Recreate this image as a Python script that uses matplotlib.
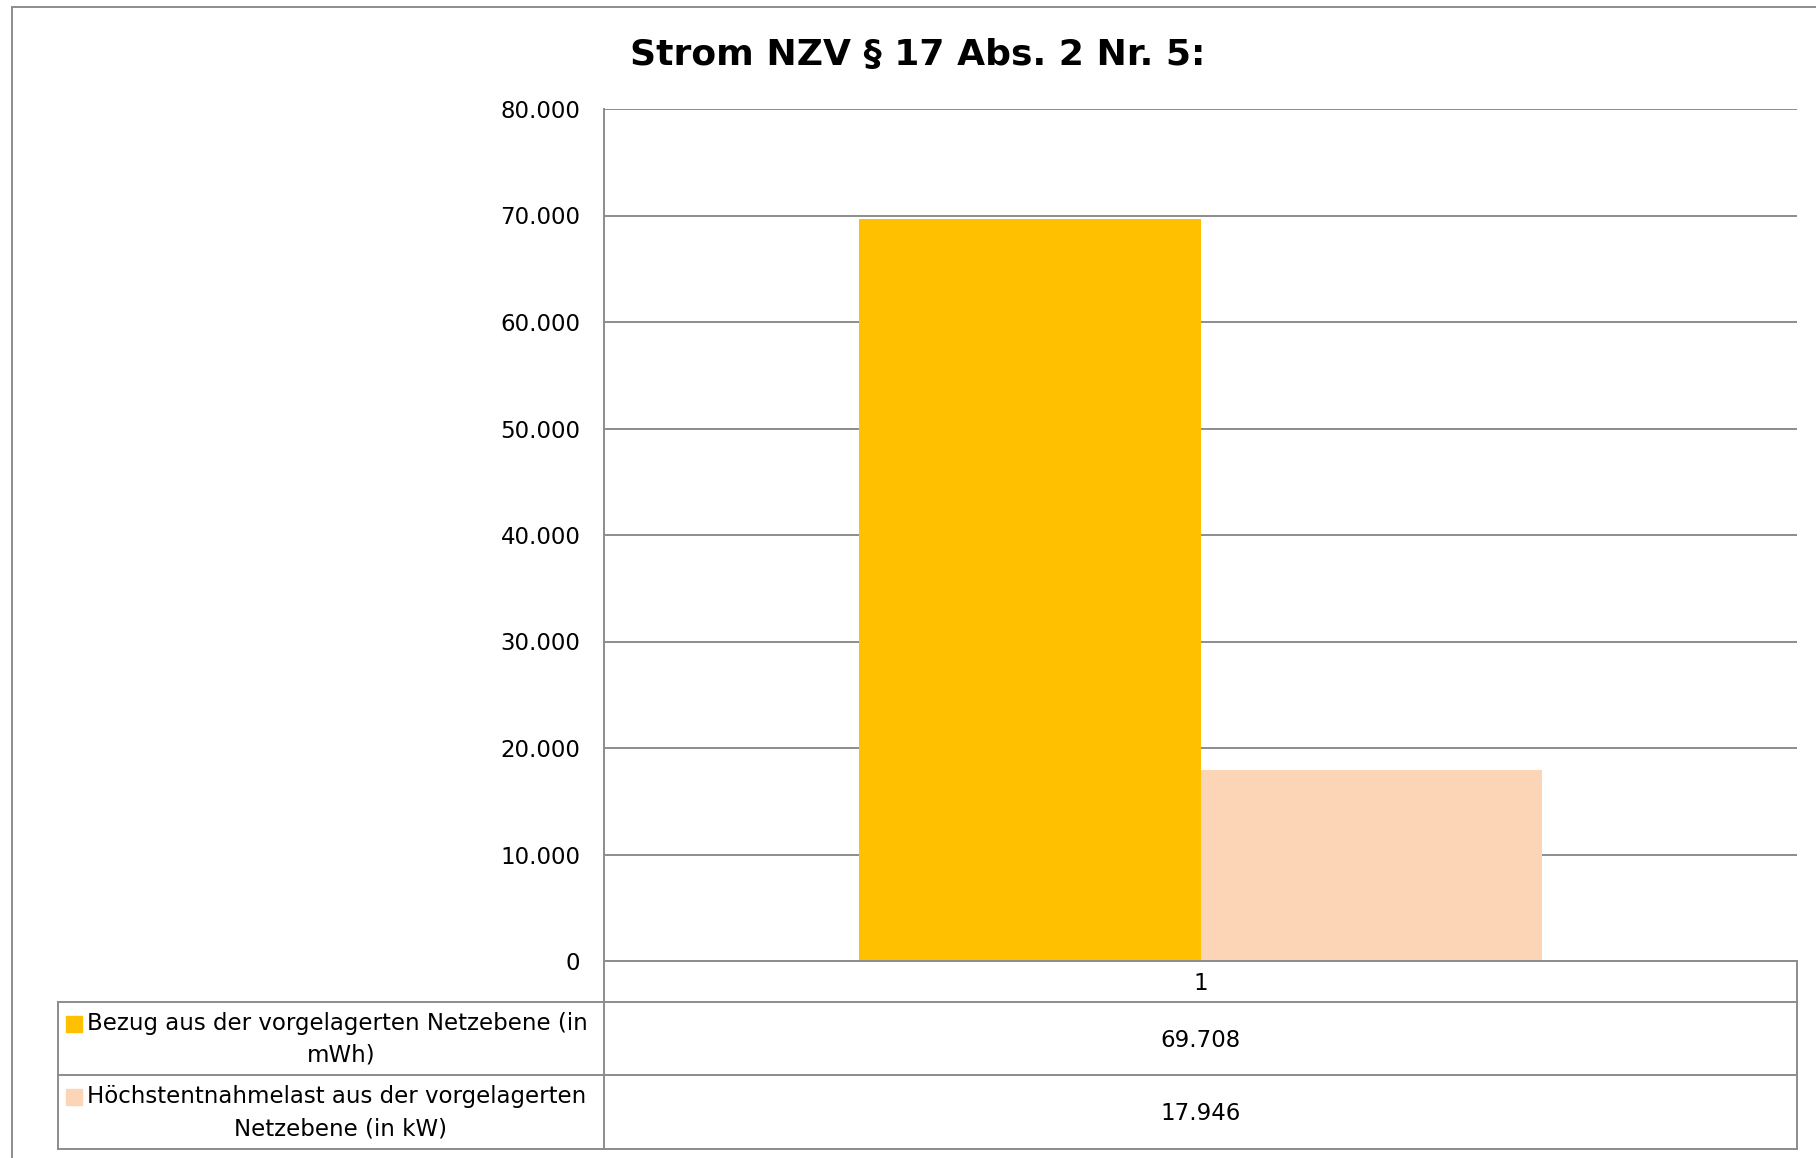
import matplotlib
matplotlib.use('Agg')
import matplotlib.pyplot as plt
from matplotlib.patches import Rectangle
from matplotlib.lines import Line2D

# data
title = "Strom NZV § 17 Abs. 2 Nr. 5:"
categories = ["1"]
series_names = [
    "Bezug aus der vorgelagerten Netzebene (in\nmWh)",
    "Höchstentnahmelast aus der vorgelagerten\nNetzebene (in kW)",
]
series_values = [69708, 17946]
series_colors = ["#FFC000", "#FBD5B5"]
y_ticks = [0, 10000, 20000, 30000, 40000, 50000, 60000, 70000, 80000]

W, H = 1816, 1158
GRID = "#8C8C8C"
FONT = "DejaVu Sans"
FS = 16.5


def de_num(v):
    return f"{v:,.0f}".replace(",", ".")


def px(x, y):
    # pixel (top-left origin) -> figure fraction
    return x / W, 1 - y / H


fig = plt.figure(figsize=(W / 100, H / 100), dpi=100)

# plot area in pixels
pl, pr, pt, pb = 604, 1797, 109, 961
ax = fig.add_axes([pl / W, 1 - pb / H, (pr - pl) / W, (pb - pt) / H])

bar_w = 0.2864
n = len(series_values)
for i, (val, col) in enumerate(zip(series_values, series_colors)):
    off = (i - (n - 1) / 2) * bar_w
    ax.bar(0 + off, val, width=bar_w, color=col, zorder=2)

ax.set_xlim(-0.5, 0.5)
ax.set_ylim(y_ticks[0], y_ticks[-1])
ax.set_yticks(y_ticks)
ax.set_yticklabels([de_num(v) for v in y_ticks], fontsize=FS, family=FONT)
ax.yaxis.grid(True, color=GRID, linewidth=1.4, zorder=0)
ax.set_axisbelow(True)
ax.tick_params(axis='y', length=0, pad=17)
ax.set_xticks([])
for s in ["top", "right", "bottom"]:
    ax.spines[s].set_visible(False)
ax.spines["left"].set_color(GRID)
ax.spines["left"].set_linewidth(1.4)

fig.text(*px(918, 55), title, ha='center', va='center', fontsize=26,
         fontweight='bold', family=FONT)

# data table below the plot
tl = 58
row_edges = [pb, 1002, 1075, 1149]


def hline(x0, x1, y):
    a, b = px(x0, y)
    c, d = px(x1, y)
    fig.add_artist(Line2D([a, c], [b, d], color=GRID, linewidth=1.4))


def vline(x, y0, y1):
    a, b = px(x, y0)
    c, d = px(x, y1)
    fig.add_artist(Line2D([a, c], [b, d], color=GRID, linewidth=1.4))


hline(pl, pr, row_edges[0])
hline(tl, pr, row_edges[1])
hline(tl, pr, row_edges[2])
hline(tl, pr, row_edges[3])
vline(pl, row_edges[0], row_edges[3])
vline(pr, row_edges[0], row_edges[3])
vline(tl, row_edges[1], row_edges[3])

col_cx = (pl + pr) / 2
fig.text(*px(col_cx, (row_edges[0] + row_edges[1]) / 2 + 2), categories[0],
         ha='center', va='center', fontsize=FS, family=FONT)

for i, (name, val, col) in enumerate(zip(series_names, series_values, series_colors)):
    y0, y1 = row_edges[i + 1], row_edges[i + 2]
    cy = (y0 + y1) / 2
    line1, line2 = name.split("\n")
    fig.text(*px(87, cy - 15), line1, ha='left', va='center',
             fontsize=FS, family=FONT)
    fig.text(*px(341, cy + 17), line2, ha='center', va='center',
             fontsize=FS, family=FONT)
    kx, ky = px(66, cy - 7)
    fig.add_artist(Rectangle((kx, ky), 16 / W, 16 / H, color=col,
                             transform=fig.transFigure))
    fig.text(*px(col_cx, cy + 2), de_num(val), ha='center', va='center',
             fontsize=FS, family=FONT)

# outer chart frame (cut off at right and bottom)
hline(12, W, 7)
vline(12, 7, H)

fig.savefig("out.png", dpi=100)
